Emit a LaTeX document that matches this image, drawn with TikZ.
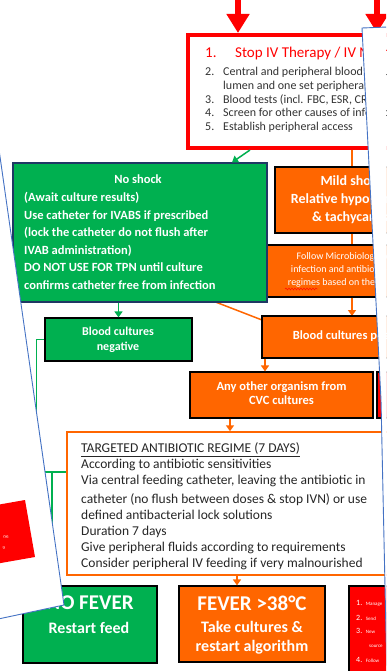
\documentclass[tikz,border=0pt]{standalone}
\usepackage{fontspec}
\setmainfont{Carlito}
\usetikzlibrary{arrows.meta,decorations.pathmorphing}

\definecolor{xlgreen}{HTML}{00B050}
\definecolor{xlorange}{HTML}{FF6600}
\definecolor{pageblue}{HTML}{4472C4}
\definecolor{navy}{HTML}{1F3864}

\tikzset{
  box/.style={rectangle,draw=black,line width=1.2pt,inner sep=0pt},
  gbox/.style={box,fill=xlgreen},
  obox/.style={box,fill=xlorange},
  wtext/.style={text=white,inner sep=0pt,align=center},
  gline/.style={draw=xlgreen,line width=1.5pt},
  oline/.style={draw=xlorange,line width=1.5pt},
  garrow/.style={gline,-{Triangle[width=8pt,length=6pt]}},
  oarrow/.style={oline,-{Triangle[width=8pt,length=6pt]}},
  rarrow/.style={draw=red,line width=6pt,-{Triangle[width=22pt,length=19pt]}},
  listtxt/.style={anchor=base west,inner sep=0pt,text=black!80,font=\fontsize{12}{14}\selectfont}
}

\begin{document}
\begin{tikzpicture}[x=1pt,y=1pt]
\clip (0,0) rectangle (386,-671);

\coordinate (rin1) at (238,5);
\coordinate (rin2) at (377,5);
\coordinate (ohid) at (200,-296);
\coordinate (gj) at (52,-472);

%%%%%%%% top
\node[rectangle,draw=red,line width=4pt,fill=white,minimum width=239pt,minimum height=113pt] (stop) at (307.5,-91.5){};
\draw [rarrow] (rin1) -- (rin1 |- stop.north);
\draw [rarrow] (rin2) -- (rin2 |- stop.north);

\node[listtxt,text=red,font=\fontsize{15}{17}\selectfont] (s1) at (205,-58){1.};
\node[listtxt,text=red,font=\fontsize{15}{17}\selectfont] (s1t) at (235,-58){Stop IV Therapy / IV Nutrition};
\node[listtxt] (s2) at (205,-76){2.};
\node[listtxt] (s2t) at (223,-76){Central and peripheral blood cultures};
\node[listtxt] (s2u) at (223,-90){lumen and one set peripheral};
\node[listtxt] (s3) at (205,-104){3.};
\node[listtxt] (s3t) at (223,-104){Blood tests (incl. FBC, ESR, CRP)};
\node[listtxt] (s4) at (205,-117){4.};
\node[listtxt] (s4t) at (223,-117){Screen for other causes of infection};
\node[listtxt] (s5) at (205,-131){5.};
\node[listtxt] (s5t) at (223,-131){Establish peripheral access};

%%%%%%%% shock boxes
\draw [oline] (ohid) -- (262,-320);

\node[obox,minimum width=154pt,minimum height=66pt] (mild) at (352,-200){};
\node[wtext,font=\fontsize{14}{18}\selectfont\bfseries] (mildtxt) at (352,-200){Mild shock\\Relative hypotension\\\& tachycardia};

\node[obox,minimum width=172pt,minimum height=52pt] (follow) at (352,-271){};
\node[wtext,font=\fontsize{10}{13}\selectfont] (followtxt) at (352,-270){Follow Microbiology advice\\infection and  antibiotic choice\\regimes based on the culture(s)};
\draw[red,decorate,decoration={snake,amplitude=1pt,segment length=3pt}] (285,-289) -- (318,-289);

\node[rectangle,draw=navy,line width=1.2pt,fill=xlgreen,minimum width=254pt,minimum height=139pt] (nshock) at (140,-232.5){};
\node[wtext,font=\fontsize{12.5}{14}\selectfont\bfseries] (nshockhd) at (138,-179){No shock};
\node[wtext,anchor=north west,align=left,font=\fontsize{12.5}{17.6}\selectfont\bfseries] (nshocktxt) at (24,-192){(Await culture results)\\Use catheter for IVABS if prescribed\\(lock the catheter do not flush after\\IVAB administration)\\DO NOT USE FOR TPN until culture\\confirms catheter free from  infection};

\coordinate (ga) at (250,0);
\coordinate (gb) at (232,0);
\coordinate (oa) at (352,0);
\draw [garrow] (ga |- stop.south) -- (gb |- nshock.north);

\draw [oline] (oa |- stop.south) -- (mild.north);
\draw [oline] (mild.south) -- (follow.north);
\draw [oarrow] (follow.south) -- (352,-316);

%%%%%%%% cultures
\node[obox,minimum width=180pt,minimum height=42pt] (bpos) at (352,-337){};
\node[wtext,font=\fontsize{12.5}{14}\selectfont\bfseries] (bpostxt) at (352,-336){Blood cultures positive};

\node[gbox,minimum width=147pt,minimum height=43pt] (bneg) at (118.5,-339.5){};
\node[wtext,font=\fontsize{12}{15}\selectfont\bfseries] (bnegtxt) at (118,-339.5){Blood cultures\\negative};
\draw [garrow] (bneg.north |- nshock.south) -- (bneg.north);

\node[obox,minimum width=183pt,minimum height=46pt] (other) at (281.5,-395){};
\node[wtext,font=\fontsize{12.5}{14.5}\selectfont\bfseries] (othertxt) at (281.5,-393){Any other organism from\\CVC cultures};
\node[box,fill=red,minimum width=46pt,minimum height=46pt] (redsm) at (400,-395){};

\coordinate (ob) at (265,0);
\draw [oarrow] (ob |- bpos.south) -- (ob |- other.north);

%%%%%%%% targeted regime
\node[rectangle,draw=xlorange,line width=1.5pt,fill=white,minimum width=363pt,minimum height=143pt] (target) at (248.5,-503.5){};
\node[anchor=north west,inner sep=0pt,align=left,text=black!85,font=\fontsize{13.5}{16}\selectfont] (targettxt) at (81,-442.5){\underline{TARGETED ANTIBIOTIC REGIME (7 DAYS)}\\According to antibiotic sensitivities\\Via central feeding catheter, leaving the antibiotic in\\[3pt]catheter (no flush between doses \& stop IVN) or use\\defined antibacterial lock solutions\\Duration 7 days\\Give peripheral fluids according to requirements\\Consider peripheral IV feeding if very malnourished};

\coordinate (oc) at (230,0);
\draw [oarrow] (oc |- other.south) -- (oc |- target.north);

\draw[gline] (bneg.west) -- ++(-8,0) |- (target.west |- gj);
\draw[gline] (gj) -- (gj |- 0,-586);

%%%%%%%% fever
\node[gbox,minimum width=134pt,minimum height=77pt] (nofever) at (90,-624.5){};
\node[wtext,font=\fontsize{21}{24}\selectfont\bfseries] (nofevhd) at (90,-603){NO FEVER};
\node[wtext,font=\fontsize{16}{19}\selectfont\bfseries] (nofevtxt) at (89,-628){Restart feed};

\node[obox,minimum width=146pt,minimum height=76pt] (fever) at (252,-624){};
\node[wtext,font=\fontsize{21}{24}\selectfont\bfseries] (fevhd) at (252,-603){FEVER >38°C};
\node[wtext,font=\fontsize{16}{19}\selectfont\bfseries] (fevtxt) at (252,-637.5){Take cultures \&\\restart algorithm};

\coordinate (od) at (237,0);
\draw [oarrow] (od |- target.south) -- (od |- fever.north);

\node[box,fill=red,minimum width=102pt,minimum height=108pt] (redbr) at (400,-640){};
\node[wtext,anchor=base west,font=\fontsize{8}{10}\selectfont] (r1) at (356,-605){1.\ \ \fontsize{5}{6}\selectfont Manage};
\node[wtext,anchor=base west,font=\fontsize{8}{10}\selectfont] (r2) at (356,-620){2.\ \ \fontsize{5}{6}\selectfont Send};
\node[wtext,anchor=base west,font=\fontsize{8}{10}\selectfont] (r3) at (356,-633){3.\ \ \fontsize{5}{6}\selectfont New};
\node[wtext,anchor=base west,font=\fontsize{5}{6}\selectfont] (r3b) at (369,-647){source};
\node[wtext,anchor=base west,font=\fontsize{8}{10}\selectfont] (r4) at (356,-662){4.\ \ \fontsize{5}{6}\selectfont Follow};

%%%%%%%%%%%%%%%%%%%%%%%%%%%%%%%%%%% pages on top
\fill[white] (-29.5,50) -- (64,-605) -- (-30,-625) -- cycle;
\draw[pageblue,line width=0.9pt] (-29.5,50) -- (64,-605) -- (-30,-625);
\fill[red] (25,-500) -- (35,-557) -- (-22,-567) -- (-32,-510) -- cycle;
\node[wtext,rotate=10,font=\fontsize{5}{6}\selectfont] (lp1) at (6,-537){ne};
\node[wtext,rotate=10,font=\fontsize{5}{6}\selectfont] (lp2) at (4,-548){n};

\fill[white] (400,-26.5) -- (362,-28) -- (381,-400) -- (387,-680) -- (420,-680) -- (420,-26.5) -- cycle;
\draw[pageblue,line width=0.9pt] (400,-26.5) -- (362,-28) -- (381,-400) -- (387,-680);

\end{tikzpicture}
\end{document}
